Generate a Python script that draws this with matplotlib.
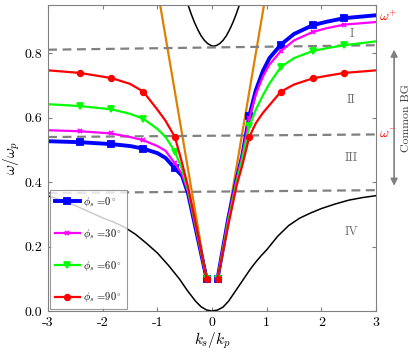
import numpy as np
import matplotlib
matplotlib.use("Agg")
import matplotlib.pyplot as plt

plt.rcParams['font.family'] = 'serif'
plt.rcParams['font.serif'] = ['cmr10', 'DejaVu Serif']
plt.rcParams['mathtext.fontset'] = 'cm'
plt.rcParams['axes.unicode_minus'] = False
plt.rcParams['axes.formatter.use_mathtext'] = True

# --- donnees ---
K_LEFT = [-3.0, -2.42, -1.84, -1.5, -1.26, -1.0, -0.85, -0.68, -0.55, -0.44, -0.3, -0.1]
K_RIGHT = [0.1, 0.3, 0.45, 0.55, 0.68, 0.8, 0.93, 1.05, 1.26, 1.5, 1.84, 2.1, 2.42, 3.0]
MARK_LEFT = [1, 2, 4, 7, 11]
MARK_RIGHT = [0, 4, 8, 10, 12]

w0_left = [0.527, 0.524, 0.518, 0.512, 0.504, 0.490, 0.475, 0.443, 0.420, 0.365, 0.256, 0.100]
w0_right = [0.100, 0.290, 0.410, 0.480, 0.605, 0.685, 0.745, 0.785, 0.827, 0.860, 0.887, 0.898, 0.909, 0.918]
w30_left = [0.561, 0.558, 0.551, 0.540, 0.530, 0.512, 0.497, 0.458, 0.425, 0.370, 0.260, 0.100]
w30_right = [0.100, 0.290, 0.410, 0.480, 0.598, 0.672, 0.728, 0.765, 0.807, 0.840, 0.866, 0.878, 0.889, 0.897]
w60_left = [0.642, 0.636, 0.626, 0.612, 0.597, 0.565, 0.540, 0.495, 0.440, 0.375, 0.265, 0.100]
w60_right = [0.100, 0.280, 0.400, 0.470, 0.573, 0.625, 0.670, 0.706, 0.758, 0.785, 0.807, 0.816, 0.825, 0.837]
w90_left = [0.747, 0.739, 0.723, 0.705, 0.681, 0.625, 0.590, 0.540, 0.460, 0.385, 0.270, 0.100]
w90_right = [0.100, 0.270, 0.390, 0.450, 0.540, 0.583, 0.615, 0.639, 0.681, 0.703, 0.722, 0.730, 0.739, 0.747]

# bande basse (noir)
k_low = [-3.0, -2.75, -2.5, -2.25, -2.0, -1.8, -1.6, -1.4, -1.2, -1.0, -0.8, -0.6, -0.45,
         -0.3, -0.2, -0.1, 0.0, 0.1, 0.2, 0.3, 0.4, 0.5, 0.6, 0.7, 0.8, 0.9, 1.0, 1.2,
         1.4, 1.6, 1.8, 2.0, 2.25, 2.5, 2.75, 3.0]
w_low = [0.357, 0.344, 0.327, 0.308, 0.289, 0.276, 0.260, 0.238, 0.210, 0.180, 0.142, 0.100, 0.063,
         0.030, 0.013, 0.003, 0.0, 0.003, 0.012, 0.030, 0.055, 0.080, 0.105, 0.130, 0.152, 0.172, 0.190, 0.232,
         0.265, 0.288, 0.304, 0.318, 0.332, 0.344, 0.352, 0.358]
# bande haute (noir)
k_up = [-0.5, -0.44, -0.38, -0.32, -0.26, -0.2, -0.14, -0.08, -0.02, 0.03, 0.08, 0.14,
        0.2, 0.26, 0.32, 0.38, 0.44, 0.5, 0.56]
w_up = [0.982, 0.950, 0.921, 0.895, 0.873, 0.854, 0.840, 0.830, 0.824, 0.822, 0.824, 0.830,
        0.840, 0.854, 0.873, 0.895, 0.921, 0.950, 0.982]
# ligne de lumiere
k_light = [0.1, 1.0]
w_light = [0.1, 1.0]
# limites des bandes interdites (tirets)
k_bg = [-3.0, 3.0]
w_bg_top = [0.811, 0.825]
w_bg_mid = [0.540, 0.548]
w_bg_bot = [0.366, 0.375]

phis = [0, 30, 60, 90]
colors = ['#0000ff', '#ff00ff', '#00ff00', '#ff0000']
markers = ['s', 'x', 'v', 'o']
widths = [2.8, 1.6, 1.6, 1.6]
lefts = [w0_left, w30_left, w60_left, w90_left]
rights = [w0_right, w30_right, w60_right, w90_right]

fig = plt.figure(figsize=(4.11, 3.53), dpi=100)
ax = fig.add_axes([0.117, 0.119, 0.798, 0.867])

ax.plot(k_low, w_low, color='k', lw=1.1)
ax.plot(k_up, w_up, color='k', lw=1.1)
ax.plot(k_light, w_light, color='#e08000', lw=1.6)
ax.plot([-k for k in k_light], w_light, color='#e08000', lw=1.6)

for wb in [w_bg_top, w_bg_mid, w_bg_bot]:
    ax.plot(k_bg, wb, color='#808080', lw=1.6, ls=(0, (4, 2.5)))

for i in range(4):
    ms = 4 if markers[i] != 'x' else 3.5
    ax.plot(K_LEFT, lefts[i], color=colors[i], lw=widths[i], marker=markers[i],
            ms=ms, mew=1.3, markevery=MARK_LEFT,
            label=r'$\phi_s$ =%d$^\circ$' % phis[i])
    ax.plot(K_RIGHT, rights[i], color=colors[i], lw=widths[i], marker=markers[i],
            ms=ms, mew=1.3, markevery=MARK_RIGHT)

ax.set_xlim(-3, 3)
ax.set_ylim(0, 0.95)
ax.set_xticks([-3, -2, -1, 0, 1, 2, 3])
ax.set_yticks([0, 0.2, 0.4, 0.6, 0.8])
ax.set_xticklabels(['-3', '-2', '-1', '0', '1', '2', '3'])
ax.set_yticklabels(['0.0', '0.2', '0.4', '0.6', '0.8'])
ax.tick_params(direction='in', top=True, right=True, length=3, color='#808080',
               labelsize=10, pad=4)
for s in ax.spines.values():
    s.set_color('#808080')
    s.set_linewidth(0.8)

ax.set_xlabel(r'$k_s/k_p$', fontsize=11, labelpad=1)
ax.set_ylabel(r'$\omega/\omega_p$', fontsize=11, labelpad=2)

# zones
for txt, yy in [('I', 0.859), ('II', 0.654), ('III', 0.474), ('IV', 0.245)]:
    ax.text(2.55, yy, txt, color='#707070', fontsize=9, ha='center', va='center')

ax.text(3.05, 0.915, r'$\omega^{+}$', color='red', fontsize=10, ha='left', va='center',
        clip_on=False)
ax.text(3.05, 0.545, r'$\omega^{-}$', color='red', fontsize=10, ha='left', va='center',
        clip_on=False)
ax.annotate('', xy=(3.33, 0.82), xytext=(3.33, 0.38), xycoords='data',
            arrowprops=dict(arrowstyle='<|-|>', color='#808080', lw=1.2,
                            mutation_scale=10), annotation_clip=False)
ax.text(3.55, 0.60, 'Common BG', rotation=90, fontsize=8.5, ha='center', va='center',
        color='#404040', clip_on=False)

leg = ax.legend(loc='lower left', fontsize=7.5, frameon=True, fancybox=False,
                edgecolor='#808080', borderaxespad=0.15, handlelength=2.4,
                labelspacing=1.7, borderpad=0.5, handletextpad=0.3)
leg.get_frame().set_linewidth(0.8)

fig.savefig('out.png', dpi=100)
